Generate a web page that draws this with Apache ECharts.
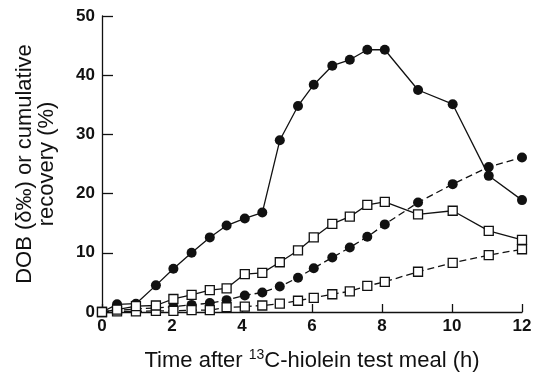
<!DOCTYPE html>
<html>
<head>
<meta charset="utf-8">
<script src="https://cdn.jsdelivr.net/npm/echarts@6/dist/echarts.min.js"></script>
<style>
	html,body{margin:0;padding:0;background:#fff;}
	#chart{width:545px;height:379px;}
</style>
</head>
<body>
<div id="chart"></div>
<script>
// 采样时间 (h)
var hours = [0, 0.43, 0.97, 1.54, 2.04, 2.56, 3.08, 3.56, 4.08, 4.58, 5.08, 5.6, 6.05, 6.58, 7.08, 7.58, 8.08, 9.03, 10.02, 11.05, 12];
// DOB, 实心圆 (实线)
var dobCircle = [0, 1.3, 1.4, 4.5, 7.3, 10.0, 12.6, 14.6, 15.8, 16.8, 29.0, 34.8, 38.4, 41.6, 42.6, 44.3, 44.3, 37.5, 35.1, 23.0, 18.9];
// DOB, 空心方块 (实线)
var dobSquare = [0, 0.4, 1.0, 1.1, 2.2, 2.9, 3.7, 4.0, 6.4, 6.6, 8.4, 10.4, 12.6, 14.9, 16.1, 18.1, 18.6, 16.5, 17.1, 13.7, 12.2];
// 累积回收率, 实心圆 (虚线)
var cumCircle = [0, 0.3, 0.5, 0.7, 0.9, 1.2, 1.5, 2.0, 2.8, 3.3, 4.3, 5.8, 7.4, 9.2, 10.9, 12.7, 14.8, 18.5, 21.6, 24.5, 26.1];
// 累积回收率, 空心方块 (虚线)
var cumSquare = [0, 0.1, 0.1, 0.2, 0.2, 0.3, 0.3, 0.8, 0.9, 1.1, 1.4, 1.9, 2.4, 3.0, 3.5, 4.4, 5.1, 6.8, 8.3, 9.6, 10.6];
var xTicks = [0, 2, 4, 6, 8, 10, 12];
var yTicks = [0, 10, 20, 30, 40, 50];

function pairs(vals){
	return hours.map(function(t,i){ return [t, vals[i]]; });
}
function mkSeries(vals, filled, dashed){
	return {
		type: 'line',
		data: pairs(vals),
		symbol: filled ? 'circle' : 'rect',
		symbolSize: filled ? 10 : 9,
		showAllSymbol: true,
		clip: false,
		z: filled ? 3 : 4,
		lineStyle: {color: '#111', width: 1.3, type: dashed ? [7, 4] : 'solid'},
		itemStyle: filled ? {color: '#111', borderWidth: 0} : {color: '#fff', borderColor: '#111', borderWidth: 1.3},
		emphasis: {disabled: true},
		animation: false
	};
}

var font = '"Liberation Sans", Arial, sans-serif';
var chart = echarts.init(document.getElementById('chart'));
var option = {
	backgroundColor: '#fff',
	grid: {left: 102, right: 23, top: 16, bottom: 67},
	xAxis: {
		type: 'value', min: xTicks[0], max: xTicks[xTicks.length-1], interval: 2,
		splitLine: {show: false},
		axisLine: {lineStyle: {color: '#111', width: 1.3}},
		axisTick: {inside: true, length: 8, lineStyle: {color: '#111', width: 1.3}},
		axisLabel: {color: '#111', fontFamily: font, fontWeight: 'bold', fontSize: 17, margin: 6},
		name: 'Time after {sup|13}C-hiolein test meal (h)',
		nameLocation: 'middle', nameGap: 36,
		nameTextStyle: {
			color: '#111', fontFamily: font, fontSize: 22,
			rich: {sup: {fontFamily: font, fontSize: 14, verticalAlign: 'top', padding: [0,0,12,0], color: '#111'}}
		}
	},
	yAxis: {
		type: 'value', min: yTicks[0], max: yTicks[yTicks.length-1], interval: 10,
		splitLine: {show: false},
		axisLine: {show: true, lineStyle: {color: '#111', width: 1.3}},
		axisTick: {show: true, inside: true, length: 11, lineStyle: {color: '#111', width: 1.3}},
		axisLabel: {color: '#111', fontFamily: font, fontWeight: 'bold', fontSize: 17, margin: 7},
		name: 'DOB (δ‰) or cumulative\nrecovery (%)',
		nameLocation: 'middle', nameGap: 44, nameRotate: 90,
		nameTextStyle: {color: '#111', fontFamily: font, fontSize: 22, lineHeight: 22, align: 'center'}
	},
	series: [
		mkSeries(cumSquare, false, true),
		mkSeries(cumCircle, true, true),
		mkSeries(dobSquare, false, false),
		mkSeries(dobCircle, true, false)
	]
};
chart.setOption(option);
</script>
</body>
</html>
